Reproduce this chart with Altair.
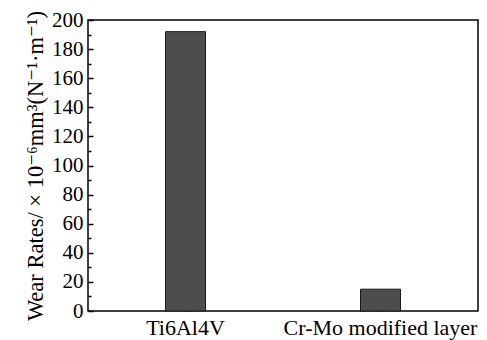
import altair as alt
import pandas as pd

materials = ["Ti6Al4V", "Cr-Mo modified layer"]
wear_rates = [192, 15]
y_major = [0, 20, 40, 60, 80, 100, 120, 140, 160, 180, 200]
y_minor = [10, 30, 50, 70, 90, 110, 130, 150, 170, 190]

df = pd.DataFrame({"material": materials, "rate": wear_rates})

FONT = "Liberation Serif"
TFONT = "Liberation Serif, DejaVu Serif, serif"
ytitle = "Wear Rates/ × 10⁻⁶mm³(N⁻¹·m⁻¹)"

xscale = alt.Scale(paddingInner=0.795, paddingOuter=0.3975)
yscale = alt.Scale(domain=[0, 200], nice=False)

xaxis = alt.Axis(title=None, labelAngle=0, domain=False, tickSize=5, offset=-5,
                 tickColor="black", tickWidth=1.5, labelPadding=6, labelLimit=400,
                 labelFont=FONT, labelFontSize=22, labelColor="black")

bars = alt.Chart(df).mark_bar(fill="#4d4d4d", stroke="#1a1a1a", strokeWidth=1).encode(
    x=alt.X("material:N", sort=materials, scale=xscale, axis=xaxis),
    y=alt.Y("rate:Q", scale=yscale,
            axis=alt.Axis(title=ytitle, values=y_major, orient="left", domain=False,
                          tickSize=5, offset=-5, tickColor="black", tickWidth=1.5,
                          labelPadding=5, labelFont=FONT, labelFontSize=21,
                          labelColor="black", titleFont=TFONT, titleFontSize=22.5,
                          titleFontWeight="normal", titleColor="black", titlePadding=4,
                          grid=False)),
)

minor = alt.Chart(df).mark_bar(opacity=0).encode(
    x=alt.X("material:N", sort=materials, scale=xscale, axis=xaxis),
    y=alt.Y("rate:Q", scale=yscale,
            axis=alt.Axis(title=None, values=y_minor, orient="left", domain=False,
                          labels=False, tickSize=3, offset=-3, tickColor="black",
                          tickWidth=1.5, grid=False)),
)

chart = alt.layer(bars, minor).resolve_axis(y="independent").properties(
    width=390, height=291,
    background="white",
    autosize=alt.AutoSizeParams(type="none"),
    padding={"left": 88, "top": 20, "right": 9, "bottom": 29},
).configure_view(stroke="black", strokeWidth=1.5)

chart.save("out.html", embed_options={"renderer": "svg", "actions": False})
